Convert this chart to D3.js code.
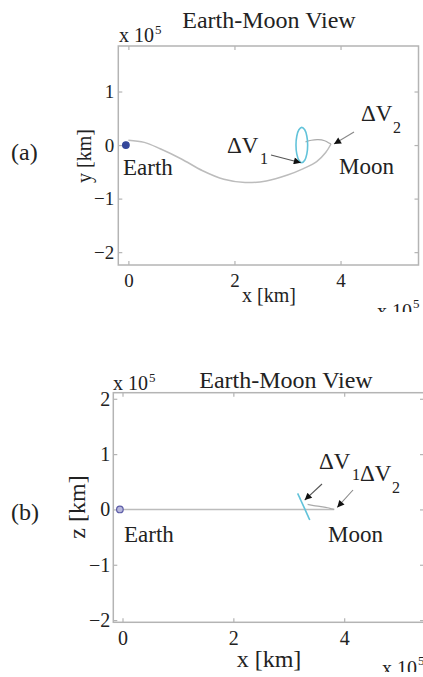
<!DOCTYPE html>
<html>
<head>
<meta charset="utf-8">
<script src="https://cdn.jsdelivr.net/npm/d3@7"></script>
<style>
  body { margin: 0; background: #fff; }
  text { font-family: "Liberation Serif", "Times New Roman", serif; fill: #222; }
</style>
</head>
<body>
<svg id="fig" width="423" height="677"></svg>
<script>
// Earth–Moon transfer via an L1 halo orbit, positions in units of 1e5 km

const xTicks = [0, 2, 4];
const yTicks = [-2, -1, 0, 1];
const zTicks = [-2, -1, 0, 1, 2];

const earthPos = [-0.047, 0, 0];   // x, y, z
const moonPos  = [3.82, 0.02, 0];

// outbound transfer arc from Earth
const transferX = [0, 0.3, 0.6, 1.0, 1.4, 1.8, 2.2, 2.6, 3.0, 3.3, 3.55, 3.72, 3.82];
const transferY = [0.09, 0.05, -0.07, -0.26, -0.48, -0.64, -0.70, -0.67, -0.56, -0.44, -0.31, -0.14, 0.02];
const transferZ = [0, 0, 0, 0, 0, 0, 0, 0, 0, 0, 0, 0, 0];

// halo orbit around L1
const haloX = [3.38, 3.365, 3.325, 3.27, 3.215, 3.175, 3.16, 3.175, 3.215, 3.27, 3.325, 3.365];
const haloY = [0.00, 0.165, 0.285, 0.33, 0.285, 0.165, 0.00, -0.165, -0.285, -0.33, -0.285, -0.165];
const haloZ = [-0.19, -0.16, -0.07, 0.05, 0.17, 0.26, 0.29, 0.26, 0.17, 0.05, -0.07, -0.16];

// departure leg from the halo orbit to the Moon
const departX = [3.34, 3.45, 3.58, 3.70, 3.78, 3.82];
const departY = [0.06, 0.09, 0.10, 0.08, 0.04, 0.02];
const departZ = [0.09, 0.07, 0.05, 0.03, 0.01, 0.0];

const serif = '"Liberation Serif", "Times New Roman", serif';
const svg = d3.select("#fig");
const defs = svg.append("defs");

defs.append("marker")
  .attr("id", "head")
  .attr("viewBox", "0 0 10 10")
  .attr("refX", 10).attr("refY", 5)
  .attr("markerWidth", 10).attr("markerHeight", 7)
  .attr("markerUnits", "userSpaceOnUse")
  .attr("orient", "auto")
  .append("path").attr("d", "M0,0L10,5L0,10Z").attr("fill", "#111");

const gridColor = "#b4b4b4";
const pathColor = "#bcbcbc";
const haloColor = "#62c3da";

function panel(cfg) {
  defs.append("clipPath").attr("id", cfg.id + "-clip")
    .append("rect").attr("x", 0).attr("y", cfg.clipTop).attr("width", 423).attr("height", cfg.clipBottom - cfg.clipTop);
  const g = svg.append("g").attr("clip-path", `url(#${cfg.id}-clip)`);

  const x = d3.scaleLinear().domain(cfg.xDomain).range([cfg.left, cfg.right]);
  const y = d3.scaleLinear().domain(cfg.yDomain).range([cfg.bottom, cfg.top]);

  // axes (ticks pointing inward, mirrored on top and right)
  const styleAxis = (sel, fs) => {
    sel.attr("font-family", null).attr("font-size", null);
    sel.select(".domain").remove();
    sel.selectAll(".tick line").attr("stroke", gridColor).attr("stroke-width", 1.2);
    sel.selectAll(".tick text").style("font-family", serif).style("font-size", fs + "px").attr("fill", "#222");
  };
  g.append("g").attr("transform", `translate(0,${cfg.bottom})`)
    .call(d3.axisBottom(x).tickValues(xTicks).tickFormat(d3.format("d")).tickSizeInner(-4).tickSizeOuter(0).tickPadding(cfg.xPad))
    .call(s => styleAxis(s, cfg.tickFont));
  g.append("g").attr("transform", `translate(0,${cfg.top})`)
    .call(d3.axisTop(x).tickValues(xTicks).tickFormat("").tickSizeInner(-4).tickSizeOuter(0))
    .call(s => styleAxis(s, cfg.tickFont));
  g.append("g").attr("transform", `translate(${cfg.left},0)`)
    .call(d3.axisLeft(y).tickValues(cfg.yTicks).tickFormat(d3.format("d")).tickSizeInner(-4).tickSizeOuter(0).tickPadding(cfg.yPad))
    .call(s => styleAxis(s, cfg.tickFont));
  g.append("g").attr("transform", `translate(${cfg.right},0)`)
    .call(d3.axisRight(y).tickValues(cfg.yTicks).tickFormat("").tickSizeInner(-4).tickSizeOuter(0))
    .call(s => styleAxis(s, cfg.tickFont));

  g.append("rect")
    .attr("x", cfg.left).attr("y", cfg.top)
    .attr("width", cfg.right - cfg.left).attr("height", cfg.bottom - cfg.top)
    .attr("fill", "none").attr("stroke", gridColor).attr("stroke-width", 1.5);

  // trajectories
  const line = d3.line().x(d => x(d[0])).y(d => y(d[1])).curve(d3.curveCatmullRom);
  const zip = (a, b) => a.map((v, i) => [v, b[i]]);
  const v = cfg.vert;
  g.append("path").datum(zip(transferX, v.transfer)).attr("d", line)
    .attr("fill", "none").attr("stroke", pathColor).attr("stroke-width", 1.5);
  g.append("path").datum(zip(departX, v.depart)).attr("d", line)
    .attr("fill", "none").attr("stroke", "#aaa").attr("stroke-width", 1.2);
  g.append("path").datum(zip(haloX, v.halo))
    .attr("d", d3.line().x(d => x(d[0])).y(d => y(d[1])).curve(d3.curveCatmullRomClosed))
    .attr("fill", "none").attr("stroke", haloColor).attr("stroke-width", 1.6);

  // Earth
  g.append("circle").attr("cx", x(earthPos[0])).attr("cy", y(earthPos[cfg.vIdx])).attr("r", 3.3)
    .attr("fill", cfg.earthFill).attr("stroke", cfg.earthStroke).attr("stroke-width", 1.2);

  // text
  const t = (txt, px, py, fs, anchor) => g.append("text").attr("x", px).attr("y", py)
    .style("font-family", serif).style("font-size", fs + "px")
    .attr("text-anchor", anchor || "start").text(txt);
  t("Earth-Moon View", cfg.titleX, cfg.titleY, 24, "middle");
  t("x 10", cfg.expTL[0], cfg.expTL[1], 20);
  t("5", cfg.expTL[0] + 36, cfg.expTL[1] - 8, 13);
  t("x 10", cfg.expBR[0], cfg.expBR[1], 20);
  t("5", cfg.expBR[0] + 36, cfg.expBR[1] - 10, 13);
  t("x [km]", cfg.xLab[0], cfg.xLab[1], cfg.labFont, "middle");
  g.append("text").attr("transform", `translate(${cfg.yLab[0]},${cfg.yLab[1]}) rotate(-90)`)
    .style("font-family", serif).style("font-size", cfg.labFont + "px")
    .attr("text-anchor", "middle").attr("dy", "0.3em").text(cfg.yName);
  t(cfg.tag, 11, cfg.tagY, 24);
  t("Earth", cfg.earthLab[0], cfg.earthLab[1], 23);
  t("Moon", cfg.moonLab[0], cfg.moonLab[1], 23);
  t("\u0394V", cfg.dv1[0], cfg.dv1[1], 23);
  t("1", cfg.dv1[0] + 33, cfg.dv1[1] + 11, 16);
  t("\u0394V", cfg.dv2[0], cfg.dv2[1], 23);
  t("2", cfg.dv2[0] + 32, cfg.dv2[1] + 12, 16);

  // maneuver arrows
  const arrow = (tail, tip, col) => g.append("line")
    .attr("x1", tail[0]).attr("y1", tail[1]).attr("x2", tip[0]).attr("y2", tip[1])
    .attr("stroke", col).attr("stroke-width", 1.1).attr("marker-end", "url(#head)");
  const hi = cfg.dv1Halo;
  arrow(cfg.dv1Tail, [x(haloX[hi]) + cfg.dv1Off[0], y(v.halo[hi]) + cfg.dv1Off[1]], "#555");
  arrow(cfg.dv2Tail, [x(moonPos[0]) + cfg.dv2Off[0], y(moonPos[cfg.vIdx]) + cfg.dv2Off[1]], "#888");
}

panel({
  id: "a", clipTop: 0, clipBottom: 312,
  left: 118.3, right: 418.5, top: 46, bottom: 265,
  xDomain: [-0.19, 5.47], yDomain: [-2.24, 1.85], yTicks: yTicks,
  xPad: 9, yPad: 4, tickFont: 19, labFont: 20,
  vIdx: 1, vert: {transfer: transferY, depart: departY, halo: haloY},
  earthFill: "#34479a", earthStroke: "#34479a",
  titleX: 269, titleY: 28,
  expTL: [119, 42], expBR: [377, 318],
  xLab: [269, 302], yLab: [85, 156], yName: "y [km]",
  tag: "(a)", tagY: 160,
  earthLab: [123, 175], moonLab: [339, 174],
  dv1: [227, 153], dv2: [361, 121],
  dv1Halo: 9, dv1Off: [-1, 0], dv1Tail: [271, 155],
  dv2Off: [3, 0], dv2Tail: [354, 132]
});

panel({
  id: "b", clipTop: 330, clipBottom: 672,
  left: 113.3, right: 424, top: 392.7, bottom: 622.3,
  xDomain: [-0.166, 5.44], yDomain: [-2.04, 2.11], yTicks: zTicks,
  xPad: 9, yPad: 3, tickFont: 20, labFont: 24,
  vIdx: 2, vert: {transfer: transferZ, depart: departZ, halo: haloZ},
  earthFill: "#b7b7dc", earthStroke: "#5b5ba6",
  titleX: 286, titleY: 388,
  expTL: [113, 390], expBR: [382, 675],
  xLab: [269, 667], yLab: [78, 507], yName: "z [km]",
  tag: "(b)", tagY: 520,
  earthLab: [124, 542], moonLab: [328, 542],
  dv1: [319, 469], dv2: [360, 481],
  dv1Halo: 4, dv1Off: [4, 0], dv1Tail: [322, 484],
  dv2Off: [3, -2], dv2Tail: [353, 490]
});
</script>
</body>
</html>
